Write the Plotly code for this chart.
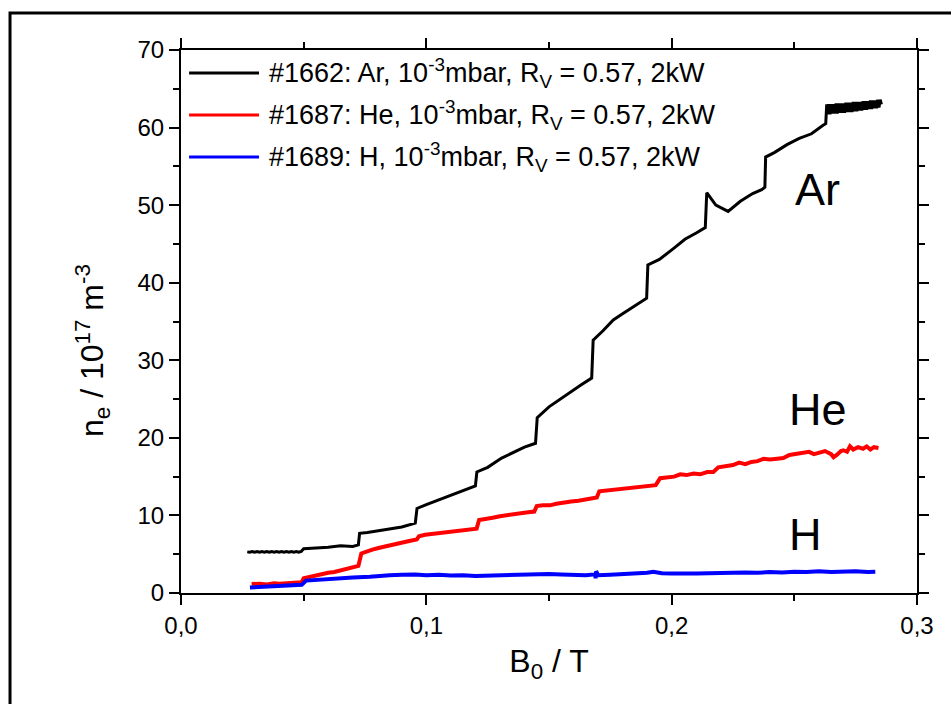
import plotly.graph_objects as go

# electron density n_e (1e17 m^-3) vs magnetic field B0 (T)
# Ar: thick noisy start, stepped middle, thick oscillating band at the end
ar_start_x = [0.027, 0.028, 0.029, 0.030, 0.031, 0.032, 0.033, 0.034, 0.035, 0.036, 0.037, 0.038,
              0.039, 0.040, 0.041, 0.042, 0.043, 0.044, 0.045, 0.046, 0.047, 0.048, 0.049]
ar_start_y = [5.3, 5.25, 5.35, 5.25, 5.35, 5.25, 5.35, 5.25, 5.35, 5.25, 5.35, 5.25,
              5.35, 5.25, 5.35, 5.25, 5.35, 5.25, 5.35, 5.25, 5.35, 5.25, 5.35]
ar_mid_x = [0.0500, 0.0550, 0.0600, 0.0650, 0.0700, 0.0723, 0.0728, 0.0760, 0.0800, 0.0850, 0.0900,
            0.0955, 0.0962, 0.1000, 0.1050, 0.1100, 0.1150, 0.1200, 0.1206, 0.1250, 0.1307, 0.1350,
            0.1400, 0.1445, 0.1452, 0.1500, 0.1532, 0.1580, 0.1630, 0.1674, 0.1680, 0.1720, 0.1762,
            0.1800, 0.1850, 0.1898, 0.1903, 0.1950, 0.2007, 0.2054, 0.2100, 0.2137, 0.2143, 0.2180,
            0.2230, 0.2280, 0.2330, 0.2367, 0.2380, 0.2383, 0.2420, 0.2470, 0.2520, 0.2570, 0.2617,
            0.2628, 0.2632]
ar_mid_y = [5.7, 5.8, 5.9, 6.1, 6.0, 6.2, 7.7, 7.8, 8.0, 8.3, 8.5,
            9.0, 10.9, 11.4, 12.0, 12.7, 13.2, 13.8, 15.6, 16.2, 17.4, 18.0,
            18.8, 19.3, 22.6, 24.0, 24.7, 25.8, 26.8, 27.7, 32.6, 33.8, 35.2,
            36.0, 37.0, 38.0, 42.3, 43.0, 44.4, 45.6, 46.4, 47.1, 51.6, 50.0,
            49.2, 50.5, 51.5, 52.0, 52.3, 56.2, 56.8, 57.8, 58.6, 59.2, 60.3,
            60.5, 63.0]
ar_end_x = [0.2635, 0.2640, 0.2645, 0.2650, 0.2655, 0.2660, 0.2665, 0.2670, 0.2675, 0.2680,
            0.2685, 0.2690, 0.2695, 0.2700, 0.2705, 0.2710, 0.2715, 0.2720, 0.2725, 0.2730,
            0.2735, 0.2740, 0.2745, 0.2750, 0.2755, 0.2760, 0.2765, 0.2770, 0.2775, 0.2780,
            0.2785, 0.2790, 0.2795, 0.2800, 0.2805, 0.2810, 0.2815, 0.2820, 0.2825, 0.2830,
            0.2835, 0.2840, 0.2845, 0.2850, 0.2855]
ar_end_y = [61.7, 63.0, 61.7, 63.0, 61.8, 63.0, 61.8, 63.1, 61.8, 63.1,
            61.9, 63.1, 61.9, 63.1, 61.9, 63.2, 62.0, 63.2, 62.0, 63.2,
            62.0, 63.3, 62.1, 63.3, 62.1, 63.3, 62.2, 63.3, 62.2, 63.4,
            62.3, 63.4, 62.3, 63.4, 62.4, 63.5, 62.4, 63.5, 62.5, 63.5,
            62.5, 63.6, 62.6, 63.6, 63.0]

he_x = [0.0288, 0.0320, 0.0350, 0.0380, 0.0400, 0.0430, 0.0450, 0.0480, 0.0492, 0.0500,
        0.0525, 0.0550, 0.0575, 0.0600, 0.0625, 0.0650, 0.0675, 0.0700, 0.0723, 0.0735,
        0.0760, 0.0780, 0.0805, 0.0830, 0.0855, 0.0880, 0.0905, 0.0930, 0.0961, 0.0970,
        0.0995, 0.1020, 0.1050, 0.1080, 0.1115, 0.1150, 0.1180, 0.1205, 0.1215, 0.1240,
        0.1270, 0.1300, 0.1330, 0.1360, 0.1390, 0.1415, 0.1440, 0.1450, 0.1475, 0.1504,
        0.1530, 0.1560, 0.1590, 0.1620, 0.1655, 0.1695, 0.1705, 0.1730, 0.1760, 0.1795,
        0.1830, 0.1865, 0.1900, 0.1935, 0.1953, 0.1980, 0.2010, 0.2035, 0.2060, 0.2090,
        0.2116, 0.2145, 0.2170, 0.2190, 0.2220, 0.2250, 0.2275, 0.2300, 0.2325, 0.2350,
        0.2375, 0.2400, 0.2430, 0.2455, 0.2480, 0.2500, 0.2520, 0.2537, 0.2560, 0.2580,
        0.2600, 0.2625, 0.2650, 0.2660, 0.2673, 0.2690, 0.2700, 0.2715, 0.2727, 0.2740,
        0.2760, 0.2780, 0.2795, 0.2810, 0.2825, 0.2843]
he_y = [1.15, 1.2, 1.1, 1.25, 1.2, 1.3, 1.25, 1.35, 1.4, 1.9,
        2.1, 2.3, 2.4, 2.6, 2.7, 2.9, 3.0, 3.2, 3.5, 5.1,
        5.4, 5.6, 5.8, 6.0, 6.2, 6.4, 6.5, 6.7, 6.9, 7.3,
        7.5, 7.6, 7.7, 7.8, 8.0, 8.1, 8.2, 8.3, 9.4, 9.5,
        9.7, 9.9, 10.0, 10.2, 10.3, 10.4, 10.5, 11.2, 11.3, 11.3,
        11.5, 11.7, 11.8, 11.9, 12.1, 12.3, 13.1, 13.2, 13.3, 13.4,
        13.5, 13.7, 13.8, 13.9, 14.8, 14.9, 15.0, 15.3, 15.2, 15.4,
        15.3, 15.6, 15.6, 16.2, 16.4, 16.5, 16.8, 16.6, 16.9, 17.0,
        17.3, 17.2, 17.3, 17.4, 17.8, 17.9, 17.9, 18.0, 18.2, 17.9,
        18.1, 18.3, 17.9, 17.5, 17.8, 18.3, 18.4, 18.2, 18.9, 18.5,
        18.8, 18.6, 18.9, 18.5, 18.8, 18.7]

h_x = [0.0281, 0.0310, 0.0350, 0.0390, 0.0420, 0.0460, 0.0492, 0.0510, 0.0550, 0.0600,
       0.0650, 0.0700, 0.0770, 0.0810, 0.0850, 0.0900, 0.0954, 0.1000, 0.1050, 0.1100,
       0.1150, 0.1200, 0.1250, 0.1300, 0.1350, 0.1400, 0.1450, 0.1500, 0.1550, 0.1600,
       0.1650, 0.1688, 0.1690, 0.1692, 0.1700, 0.1750, 0.1800, 0.1850, 0.1900, 0.1925,
       0.1960, 0.2000, 0.2050, 0.2100, 0.2150, 0.2200, 0.2250, 0.2300, 0.2350, 0.2400,
       0.2450, 0.2500, 0.2550, 0.2600, 0.2650, 0.2700, 0.2750, 0.2800, 0.2830]
h_y = [0.7, 0.75, 0.8, 0.85, 0.9, 0.95, 1.05, 1.6, 1.7, 1.8,
       1.95, 2.0, 2.1, 2.25, 2.3, 2.35, 2.4, 2.3, 2.35, 2.25,
       2.3, 2.2, 2.25, 2.35, 2.4, 2.35, 2.4, 2.45, 2.4, 2.35,
       2.3, 2.4, 1.9, 2.8, 2.3, 2.35, 2.4, 2.5, 2.6, 2.75,
       2.55, 2.5, 2.45, 2.5, 2.55, 2.6, 2.55, 2.65, 2.6, 2.7,
       2.65, 2.75, 2.7, 2.8, 2.7, 2.75, 2.8, 2.7, 2.75]

ar_x = ar_start_x + ar_mid_x + ar_end_x
ar_y = ar_start_y + ar_mid_y + ar_end_y

legend_labels = [
    "#1662: Ar, 10<sup>-3</sup>mbar, R<sub>V</sub> = 0.57, 2kW",
    "#1687: He, 10<sup>-3</sup>mbar, R<sub>V</sub> = 0.57, 2kW",
    "#1689: H, 10<sup>-3</sup>mbar, R<sub>V</sub> = 0.57, 2kW",
]
colors = ["#000000", "#ff0000", "#0000ff"]
widths = [3, 4, 4]
gas_names = ["Ar", "He", "H"]
gas_label_x = [0.2495, 0.2470, 0.2470]
gas_label_y = [52, 23.6, 7.5]

FONT = "Liberation Sans, Arial, Helvetica, sans-serif"

fig = go.Figure()
for xs, ys, c, w, name in [(ar_x, ar_y, colors[0], widths[0], legend_labels[0]),
                           (he_x, he_y, colors[1], widths[1], legend_labels[1]),
                           (h_x, h_y, colors[2], widths[2], legend_labels[2])]:
    fig.add_trace(go.Scatter(x=xs, y=ys, mode="lines", name=name,
                             line=dict(color=c, width=w), showlegend=False))

# hand-made legend (long line samples like the original)
rows = [0.9576, 0.8803, 0.8029]
for lab, c, ry in zip(legend_labels, colors, rows):
    fig.add_shape(type="line", xref="paper", yref="paper", x0=0.011, x1=0.106, y0=ry, y1=ry,
                  line=dict(color=c, width=3))
    fig.add_annotation(xref="paper", yref="paper", x=0.117, y=ry, text=lab, showarrow=False,
                       xanchor="left", yanchor="middle", font=dict(size=27, color="black"))

for name, gx, gy in zip(gas_names, gas_label_x, gas_label_y):
    fig.add_annotation(x=gx, y=gy, text=name, showarrow=False, xanchor="left", yanchor="middle",
                       font=dict(size=45, color="black"))

# y axis title as annotation (sits a bit below the axis middle in the original)
fig.add_annotation(xref="paper", yref="paper", x=-0.121, y=0.4475, textangle=-90,
                   text="n<sub>e</sub> / 10<sup>17</sup> m<sup>-3</sup>", showarrow=False,
                   xanchor="center", yanchor="middle", font=dict(size=32, color="black"))

# outer frame around the figure (right/bottom sides fall outside the picture)
fig.add_shape(type="rect", xref="paper", yref="paper", x0=-0.2323, x1=1.3, y0=-0.4, y1=1.068,
              line=dict(color="black", width=3))

fig.update_layout(
    width=951, height=704,
    margin=dict(l=181, r=34, t=50, b=111),
    paper_bgcolor="white", plot_bgcolor="white",
    font=dict(family=FONT, color="black", size=24),
    separators=",.",
)
fig.update_xaxes(
    range=[0, 0.3], tickvals=[0, 0.1, 0.2, 0.3], tickformat=".1f",
    showline=True, linecolor="black", linewidth=2, mirror="ticks",
    ticks="outside", ticklen=10, tickwidth=2, tickcolor="black",
    minor=dict(dtick=0.05, ticks="outside", ticklen=6, tickwidth=2, tickcolor="black", showgrid=False),
    showgrid=False, zeroline=False,
    tickfont=dict(size=24),
    title=dict(text="B<sub>0</sub> / T", font=dict(size=32), standoff=12),
)
fig.update_yaxes(
    range=[0, 70], dtick=10,
    showline=True, linecolor="black", linewidth=2, mirror="ticks",
    ticks="outside", ticklen=10, tickwidth=2, tickcolor="black",
    minor=dict(dtick=5, ticks="outside", ticklen=6, tickwidth=2, tickcolor="black", showgrid=False),
    showgrid=False, zeroline=False,
    tickfont=dict(size=24),
)

# drop the default page margin so the 951x704 figure fills the window exactly
fig.write_html("out.html", config={"displayModeBar": False},
               post_script="document.body.style.margin = '0';")
